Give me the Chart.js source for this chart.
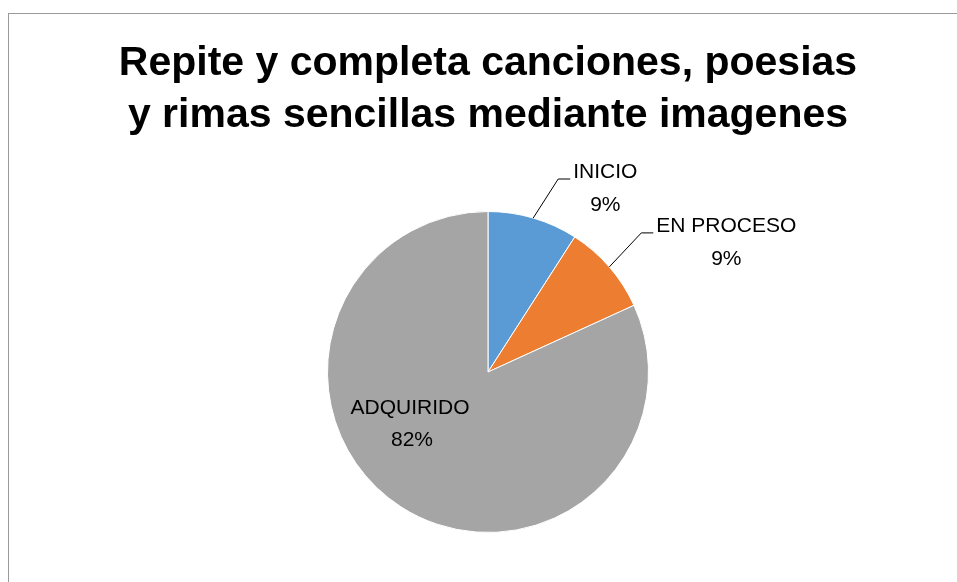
<!DOCTYPE html>
<html>
<head>
<meta charset="utf-8">
<script src="https://cdn.jsdelivr.net/npm/chart.js@4.4.1/dist/chart.umd.min.js"></script>
<style>
  html, body { margin: 0; padding: 0; background: #fff; overflow: hidden; }
  #frame { position: absolute; left: 8px; top: 13px; width: 1000px; height: 1000px; border: 1px solid #9a9a9a; box-sizing: border-box; }
  #wrap { position: absolute; left: 0; top: 0; width: 957px; height: 582px; }
</style>
</head>
<body>
<div id="frame"></div>
<div id="wrap"><canvas id="c" width="957" height="582"></canvas></div>
<script>
const titleLines = ["Repite y completa canciones, poesias", "y rimas sencillas mediante imagenes"];
const categories = ["INICIO", "EN PROCESO", "ADQUIRIDO"];
const counts = [2, 2, 18];
const colors = ["#5B9BD5", "#ED7D31", "#A5A5A5"];

// label placement styles (offsets relative to chart geometry)
const labelStyle = [
  { mode: "outside", elbow: [25, -39] },
  { mode: "outside", elbow: [32, -34] },
  { mode: "inside", offset: [-78, 52] }
];

const labelPlugin = {
  id: "pieLabels",
  afterDraw(chart) {
    const ctx = chart.ctx;
    const meta = chart.getDatasetMeta(0);
    const data = chart.data.datasets[0].data;
    const total = data.reduce((a, b) => a + b, 0);
    ctx.save();
    ctx.font = "21px 'Liberation Sans', Arial, sans-serif";
    ctx.fillStyle = "#000";
    ctx.strokeStyle = "#000";
    ctx.lineWidth = 1;
    ctx.textAlign = "center";
    ctx.textBaseline = "middle";
    meta.data.forEach((arc, i) => {
      const p = arc.getProps(["x", "y", "startAngle", "endAngle", "outerRadius"], true);
      const mid = (p.startAngle + p.endAngle) / 2;
      const l1 = chart.data.labels[i];
      const l2 = Math.round(data[i] / total * 100) + "%";
      const st = labelStyle[i];
      if (st.mode === "outside") {
        const sx = p.x + Math.cos(mid) * p.outerRadius;
        const sy = p.y + Math.sin(mid) * p.outerRadius;
        const ex = sx + st.elbow[0];
        const ey = sy + st.elbow[1];
        ctx.beginPath();
        ctx.moveTo(sx, sy);
        ctx.lineTo(ex, ey);
        ctx.lineTo(ex + 12, ey);
        ctx.stroke();
        const w = Math.max(ctx.measureText(l1).width, ctx.measureText(l2).width);
        const cx = ex + 15 + w / 2;
        ctx.fillText(l1, cx, ey - 7);
        ctx.fillText(l2, cx, ey + 26);
      } else {
        const cx = p.x + st.offset[0];
        const cy = p.y + st.offset[1];
        ctx.fillText(l1, cx, cy - 16);
        ctx.fillText(l2, cx + 2, cy + 16);
      }
    });
    ctx.restore();
  }
};

new Chart(document.getElementById("c"), {
  type: "pie",
  data: {
    labels: categories,
    datasets: [{
      data: counts,
      backgroundColor: colors,
      borderColor: "#ffffff",
      borderWidth: 1
    }]
  },
  options: {
    responsive: false,
    animation: false,
    events: [],
    layout: { padding: { top: 38, bottom: 49, left: 19, right: 0 } },
    plugins: {
      legend: { display: false },
      tooltip: { enabled: false },
      title: {
        display: true,
        text: titleLines,
        color: "#000",
        font: { family: "'Liberation Sans', Arial, sans-serif", size: 41, weight: "bold", lineHeight: "52px" },
        padding: { top: 0, bottom: 69 }
      }
    }
  },
  plugins: [labelPlugin]
});
</script>
</body>
</html>
